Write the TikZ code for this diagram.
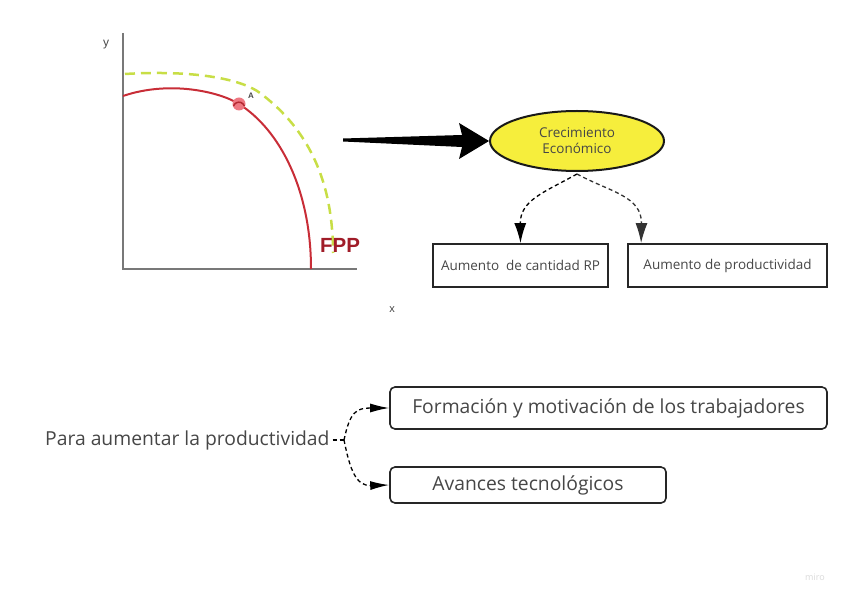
\documentclass[tikz,border=0pt]{standalone}
\usepackage{fontspec}
\setmainfont{Open Sans}
\newfontfamily\arialf{Liberation Sans}
\usetikzlibrary{arrows.meta,calc,shapes.geometric}
\definecolor{redc}{RGB}{200,45,55}
\definecolor{fppc}{RGB}{160,28,40}
\definecolor{greenc}{RGB}{200,222,70}
\definecolor{yellowc}{RGB}{246,238,60}
\definecolor{txtc}{RGB}{70,70,70}
\definecolor{axisc}{RGB}{120,120,120}
\tikzset{
  sqbox/.style={draw=black!85,line width=1.8pt,minimum height=43pt,inner xsep=4pt,font=\fontsize{13.5}{16}\selectfont,text=txtc},
  rbox/.style={draw=black!85,line width=1.6pt,rounded corners=5pt,font=\fontsize{19.3}{22}\selectfont,text=txtc},
  dasharrow/.style={dash pattern=on 4pt off 3pt,line width=1.3pt},
  tipv/.style={-{Latex[length=20pt,width=12pt]}},
  tiph/.style={-{Latex[length=19pt,width=9pt]}},
}
\begin{document}
\begin{tikzpicture}[x=1pt,y=-1pt]
\useasboundingbox (0,0) rectangle (848,601);
% axes
\coordinate (origin) at (123,269);
\coordinate (ytop) at (123,33);
\coordinate (xend) at (357,269);
\draw[axisc,line width=1.6pt] (ytop) -- (origin) -- (xend);
\node[font=\arialf\fontsize{12}{14}\selectfont,text=txtc] (ylab) at (106,45) {y};
\node[font=\arialf\fontsize{11}{13}\selectfont,text=txtc] (xlab) at (392,310) {x};
% green dashed
\draw[greenc,line width=2.5pt,dash pattern=on 10pt off 6pt] (125,74) .. controls (190,70) and (240,78) .. (260,93) .. controls (300,123) and (333,170) .. (333,253);
% red curve
\draw[redc,line width=2pt] (123,96) .. controls (170,80) and (220,92) .. (239,104) .. controls (280,130) and (311,190) .. (311,269);
% point A
\fill[fill={rgb,255:red,238;green,120;blue,130}] (239,104) circle (6.5);
\draw[redc!90!black,line width=1.5pt] (233.5,106) arc (200:340:5.8);
\node[font=\arialf\bfseries\fontsize{8}{10}\selectfont,text=txtc] (alab) at (251,96) {A};
\node[font=\arialf\bfseries\fontsize{20.5}{24}\selectfont,text=fppc] (fpp) at (340,245) {FPP};
% ellipse
\node[ellipse,draw=black!90,line width=2pt,fill=yellowc,minimum width=174pt,minimum height=60pt,inner sep=0pt,align=center,font=\fontsize{13.5}{16}\selectfont,text=txtc] (ell) at (577,141) {Crecimiento\\Económico};
% big tapered arrow
\coordinate (astart) at (343,140);
\fill[black] (astart) -- ++(0,-1.5) -- ($(ell.west)+(-27,-6)$) -- ($(ell.west)+(-30,-18)$) -- (ell.west) -- ($(ell.west)+(-30,18)$) -- ($(ell.west)+(-27,6)$) -- ($(astart)+(0,1.5)$) -- cycle;
% boxes
\node[sqbox,minimum width=175pt] (b1) at (520.5,265.5) {Aumento~ de cantidad RP};
\node[sqbox,minimum width=199pt] (b2) at (727.5,265.5) {Aumento de productividad};
\coordinate (fork) at (577,174);
\draw[dasharrow,tipv] (fork) .. controls (545,192) and (520,200) .. (b1.north);
\draw[dasharrow,tipv,black!80] (fork) .. controls (610,192) and (642,196) .. ($(b2.north west)+(14,0)$);
% bottom
\node[font=\fontsize{19.3}{22}\selectfont,text=txtc,anchor=west,inner sep=0pt] (para) at (45,440) {Para aumentar la productividad};
\node[rbox,minimum width=437pt,minimum height=42pt] (f1) at (608.5,408) {Formación y motivación de los trabajadores};
\node[rbox,minimum width=276pt,minimum height=36pt] (f2) at (528,485) {Avances tecnológicos};
\coordinate (split) at (344,440);
\draw[dasharrow] ($(para.east)+(3,0)$) -- (split);
\draw[dasharrow,tiph] (split) .. controls (350,412) and (356,408) .. (f1.west);
\draw[dasharrow,tiph] (split) .. controls (350,470) and (356,486) .. (f2.west);
\node[font=\fontsize{9}{10}\selectfont,text=black!15] (miro) at (815,577) {miro};
\end{tikzpicture}
\end{document}
